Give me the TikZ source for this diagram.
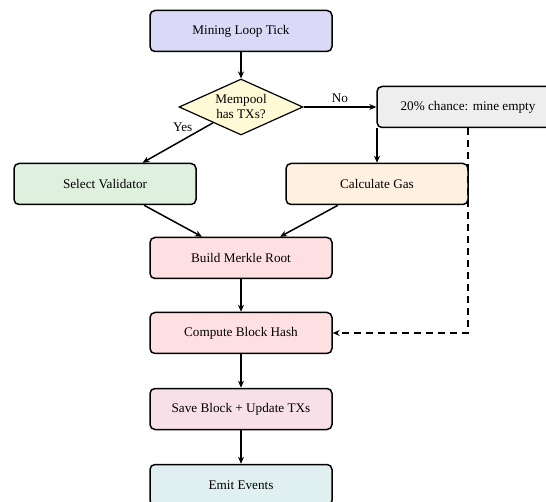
\documentclass[tikz,border=0pt]{standalone}
\usepackage{fontspec}
\setmainfont{Liberation Serif}
\usetikzlibrary{shapes.geometric,arrows.meta}
\definecolor{cTick}{HTML}{DADAF8}
\definecolor{cDec}{HTML}{FFF9D6}
\definecolor{cEmpty}{HTML}{EEEEEE}
\definecolor{cVal}{HTML}{DFF0DF}
\definecolor{cGas}{HTML}{FFF0E0}
\definecolor{cBlock}{HTML}{FFE0E2}
\definecolor{cSave}{HTML}{F8E0E8}
\definecolor{cEmit}{HTML}{E0F0F0}
\tikzset{
  stepbox/.style={draw=black, line width=1.5pt, rounded corners=5pt,
    minimum width=182pt, minimum height=41pt, inner sep=0pt,
    font=\fontsize{13.2}{15}\selectfont},
  decbox/.style={draw=black, line width=1.2pt, diamond, shape aspect=2.2,
    minimum width=124pt, minimum height=56pt, inner sep=0pt, align=center,
    font=\fontsize{13.2}{15}\selectfont, fill=cDec},
  flow/.style={line width=1.5pt, -{Stealth[length=7pt,width=6pt]}},
  lbl/.style={font=\fontsize{13.2}{15}\selectfont, inner sep=1pt}
}
\begin{document}
\begin{tikzpicture}[x=1pt,y=-1pt]
\useasboundingbox (0,0) rectangle (546,502);
\node[stepbox, fill=cTick] (tick) at (241,31) {Mining Loop Tick};
\node[decbox] (dec) at (241,107) {Mempool\\has TXs?};
\node[stepbox, fill=cEmpty] (empty) at (468,107) {20\% chance: mine empty};
\node[stepbox, fill=cVal] (val) at (105,184) {Select Validator};
\node[stepbox, fill=cGas] (gas) at (377,184) {Calculate Gas};
\node[stepbox, fill=cBlock] (merkle) at (241,258) {Build Merkle Root};
\node[stepbox, fill=cBlock] (hash) at (241,333) {Compute Block Hash};
\node[stepbox, fill=cSave] (save) at (241,409) {Save Block + Update TXs};
\node[stepbox, fill=cEmit] (emit) at (241,485) {Emit Events};

\draw[flow] (tick) -- (dec);
\draw[flow] (dec.east) -- node[lbl, midway, above=3pt] (nolbl) {No} (empty.west);
\draw[flow] (dec) -- node[lbl, pos=0.27, above left=0pt] (yeslbl) {Yes} (val);
\draw[flow] (empty.south -| gas.north) -- (gas.north);
\draw[flow] (val) -- (merkle);
\draw[flow] (gas) -- (merkle);
\draw[flow] (merkle) -- (hash);
\draw[flow] (hash) -- (save);
\draw[flow] (save) -- (emit);
\draw[flow, dashed, dash pattern=on 7pt off 5pt] (empty.south) |- (hash.east);
\end{tikzpicture}
\end{document}
